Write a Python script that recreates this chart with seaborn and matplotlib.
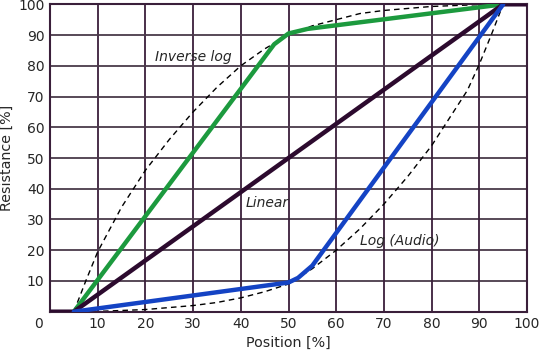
import matplotlib
matplotlib.use("Agg")
import matplotlib.pyplot as plt
import seaborn as sns
import pandas as pd

linear_x = [0, 5, 95, 100]
linear_y = [0, 0, 100, 100]

invlog_x = [5, 47, 50, 54, 95]
invlog_y = [0, 87, 90.5, 92, 100]

log_x = [5, 50, 52, 55, 95]
log_y = [0, 9.5, 11, 15, 100]

inv_ref_x = [5, 7.5, 10, 15, 20, 25, 30, 35, 40, 45, 50, 55, 60, 65, 70, 80, 90, 95]
inv_ref_y = [0, 10, 19.5, 34, 46, 56, 65, 73, 80, 85.5, 90, 93, 95, 97, 98, 99.3, 99.9, 100]

log_ref_x = [5, 10, 20, 30, 35, 40, 45, 50, 55, 60, 65, 70, 75, 80, 85, 87.5, 90, 92.5, 95]
log_ref_y = [0, 0.1, 0.7, 2, 3, 4.5, 6.5, 9, 14, 20, 27, 35, 44, 54, 66, 72, 80.5, 90, 100]

ticks = [10, 20, 30, 40, 50, 60, 70, 80, 90, 100]

sns.set_style("white")
plt.rcParams['font.family'] = ['DejaVu Sans']

fig = plt.figure(figsize=(5.4, 3.51), dpi=100)
ax = fig.add_axes([50 / 540, 1 - 311.7 / 351, 477 / 540, 307.4 / 351])

# grid
for t in ticks:
    ax.axvline(t, color="#3a1f3a", lw=1.3, zorder=1)
    ax.axhline(t, color="#4a3a4a", lw=1.3, zorder=1)

df = pd.DataFrame({"x": inv_ref_x, "y": inv_ref_y})
sns.lineplot(data=df, x="x", y="y", ax=ax, color="black", lw=1.0,
             linestyle=(0, (4, 3)), sort=False, zorder=2)
df = pd.DataFrame({"x": log_ref_x, "y": log_ref_y})
sns.lineplot(data=df, x="x", y="y", ax=ax, color="black", lw=1.0,
             linestyle=(0, (4, 3)), sort=False, zorder=2)

df = pd.DataFrame({"x": invlog_x, "y": invlog_y})
sns.lineplot(data=df, x="x", y="y", ax=ax, color="#1c9a3e", lw=3.2,
             sort=False, zorder=3)
df = pd.DataFrame({"x": linear_x, "y": linear_y})
sns.lineplot(data=df, x="x", y="y", ax=ax, color="#2c0a2e", lw=3.2,
             sort=False, zorder=4)
df = pd.DataFrame({"x": log_x, "y": log_y})
sns.lineplot(data=df, x="x", y="y", ax=ax, color="#1443c4", lw=3.2,
             sort=False, zorder=5)

ax.text(30, 83, "Inverse log", style="italic", fontsize=10, ha="center", va="center")
ax.text(45.5, 35.5, "Linear", style="italic", fontsize=10, ha="center", va="center")
ax.text(65, 23, "Log (Audio)", style="italic", fontsize=10, ha="left", va="center")

ax.set_xlim(0, 100)
ax.set_ylim(0, 100)
ax.set_xticks(ticks)
ax.set_yticks(ticks)
ax.tick_params(labelsize=10, length=0, pad=4)
ax.text(-2.5, -4, "0", fontsize=10, ha="center", va="center", clip_on=False)
ax.set_xlabel("Position [%]", fontsize=10.3, labelpad=3)
ax.set_ylabel("Resistance [%]", fontsize=10.3)
ax.yaxis.set_label_coords(-36 / 477, 0.5)
for s in ax.spines.values():
    s.set_color("#3a1f3a")
    s.set_linewidth(1.5)
    s.set_visible(True)

plt.savefig("out.png", dpi=100)
